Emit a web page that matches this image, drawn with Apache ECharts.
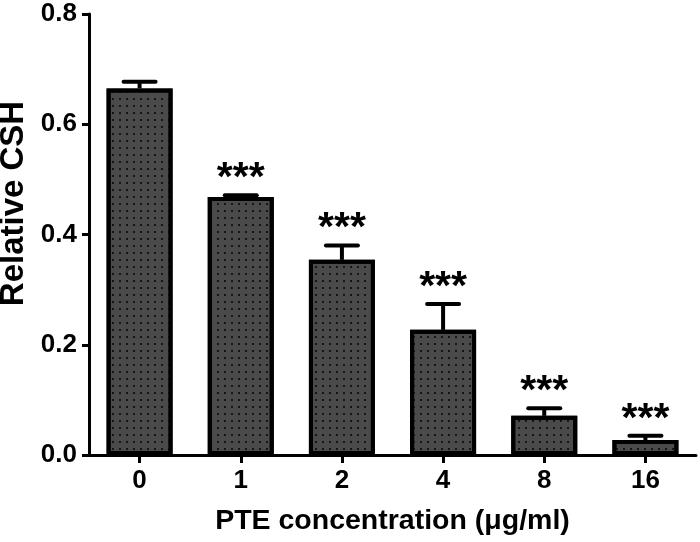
<!DOCTYPE html>
<html>
<head>
<meta charset="utf-8">
<script src="https://cdn.jsdelivr.net/npm/echarts@6/dist/echarts.min.js"></script>
<style>
html,body{margin:0;padding:0;background:#fff;}
#chart{width:700px;height:542px;}
</style>
</head>
<body>
<div id="chart"></div>
<script>
const categories = ['0', '1', '2', '4', '8', '16'];
const values = [0.665, 0.468, 0.354, 0.227, 0.071, 0.027];
const errors = [0.012, 0.003, 0.026, 0.047, 0.014, 0.008];
const significance = ['', '***', '***', '***', '***', '***'];
const yTicks = [0, 0.2, 0.4, 0.6, 0.8];

const chart = echarts.init(document.getElementById('chart'), null, {renderer: 'canvas'});
const FONT = 'Liberation Sans, Arial, sans-serif';

const option = {
  animation: false,
  backgroundColor: '#fff',
  grid: {left: 89, right: 4, top: 14, bottom: 87, containLabel: false, outerBoundsMode: 'none'},
  xAxis: {
    type: 'category',
    data: categories,
    name: 'PTE concentration (\u03bcg/ml)',
    nameLocation: 'middle',
    nameGap: 52,
    nameTextStyle: {fontFamily: FONT, fontWeight: 'bold', fontSize: 28.5, color: '#000'},
    axisLine: {lineStyle: {color: '#000', width: 3}},
    axisTick: {show: true, alignWithLabel: true, length: 8, lineStyle: {color: '#000', width: 3}},
    axisLabel: {fontFamily: FONT, fontWeight: 'bold', fontSize: 26, color: '#000', margin: 13}
  },
  yAxis: {
    type: 'value',
    min: 0, max: 0.8, interval: 0.2,
    name: 'Relative CSH',
    nameLocation: 'middle',
    nameRotate: 90,
    nameGap: 54,
    nameTextStyle: {fontFamily: FONT, fontWeight: 'bold', fontSize: 33, color: '#000', padding: [0, 0, 0, 62]},
    axisLine: {show: true, lineStyle: {color: '#000', width: 3}},
    axisTick: {show: true, length: 7, lineStyle: {color: '#000', width: 3}},
    splitLine: {show: false},
    axisLabel: {
      fontFamily: FONT, fontWeight: 'bold', fontSize: 26, color: '#000', margin: 12,
      formatter: v => {
        const t = yTicks.find(x => Math.abs(x - v) < 1e-9);
        return (t !== undefined ? t : v).toFixed(1);
      }
    }
  },
  series: [
    {
      type: 'bar',
      data: values,
      barWidth: 66,
      itemStyle: {
        color: '#4a4a4a',
        borderColor: '#000',
        borderWidth: 4,
        decal: {
          symbol: 'rect',
          symbolSize: 1,
          color: '#151515',
          dashArrayX: [2, 5],
          dashArrayY: [2, 5],
          rotation: 0
        }
      },
      z: 2
    },
    {
      type: 'custom',
      z: 3,
      data: values.map((v, i) => [i, v, errors[i]]),
      renderItem: function (params, api) {
        const i = api.value(0);
        const v = api.value(1);
        const e = api.value(2);
        const base = api.coord([i, v]);
        const top = api.coord([i, v + e]);
        const capHalf = 16;
        const children = [
          {type: 'line', shape: {x1: base[0], y1: base[1], x2: top[0], y2: top[1]},
           style: {stroke: '#000', lineWidth: 4}},
          {type: 'line', shape: {x1: top[0] - capHalf, y1: top[1], x2: top[0] + capHalf, y2: top[1]},
           style: {stroke: '#000', lineWidth: 4, lineCap: 'round'}}
        ];
        const s = significance[params.dataIndex];
        if (s) {
          children.push({
            type: 'text',
            x: top[0], y: top[1] + 4,
            style: {text: s, font: 'bold 41px ' + FONT, textAlign: 'center', textVerticalAlign: 'bottom', fill: '#000'}
          });
        }
        return {type: 'group', children: children};
      }
    }
  ]
};
chart.setOption(option);
</script>
</body>
</html>
